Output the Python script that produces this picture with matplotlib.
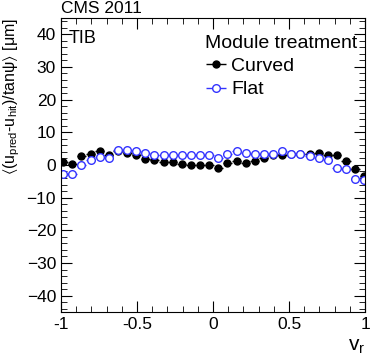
import matplotlib.pyplot as plt
from matplotlib.ticker import MultipleLocator

plt.rcParams['font.family'] = ['Liberation Sans', 'DejaVu Sans']
plt.rcParams['mathtext.fontset'] = 'custom'
plt.rcParams['mathtext.rm'] = 'Liberation Sans'
plt.rcParams['mathtext.it'] = 'Liberation Sans'
plt.rcParams['mathtext.default'] = 'regular'

# bin centres in v_r
v_r = [-0.985, -0.925, -0.865, -0.805, -0.745, -0.685, -0.625, -0.565, -0.505,
       -0.445, -0.385, -0.325, -0.265, -0.205, -0.145, -0.085, -0.025, 0.035,
       0.095, 0.155, 0.215, 0.275, 0.335, 0.395, 0.455, 0.515, 0.575, 0.635,
       0.695, 0.755, 0.815, 0.875, 0.935, 0.995]
half_width = 0.03

curved = [0.9, 0.4, 2.7, 3.4, 4.2, 3.0, 4.2, 3.7, 3.0, 1.9, 1.4, 1.0, 0.9, 0.2,
          -0.1, 0.0, -0.1, -0.8, 0.5, 1.2, 0.7, 1.2, 2.2, 3.0, 3.0, 3.5, 3.3,
          3.5, 3.7, 3.0, 2.9, 1.2, -1.3, -3.3]
flat = [-2.8, -2.8, -0.1, 1.4, 2.5, 2.0, 4.5, 4.7, 4.2, 3.7, 3.2, 3.2, 3.2, 3.0,
        3.0, 3.2, 3.2, 2.2, 3.4, 4.2, 3.7, 3.4, 3.5, 3.5, 4.2, 3.5, 3.4, 2.7,
        2.2, 1.5, -0.8, -1.3, -4.3, -4.5]

fig = plt.figure(figsize=(3.74, 3.59), dpi=100)
ax = fig.add_axes([0.163, 0.131, 0.813, 0.819])

ax.errorbar(v_r, curved, xerr=half_width, fmt='o', color='black', ms=5,
            elinewidth=1, capsize=0, label='Curved')
ax.errorbar(v_r, flat, xerr=half_width, fmt='o', color='#3333ff', mfc='white',
            mec='#3333ff', ms=5.5, mew=1, elinewidth=1, capsize=0, label='Flat')

ax.set_xlim(-1, 1)
ax.set_ylim(-45, 45)
ax.xaxis.set_minor_locator(MultipleLocator(0.1))
ax.yaxis.set_major_locator(MultipleLocator(10))
ax.yaxis.set_minor_locator(MultipleLocator(2))
ax.set_xticks([-1, -0.5, 0, 0.5, 1])
ax.set_xticklabels(['-1', '-0.5', '0', '0.5', '1'])
ax.tick_params(which='both', direction='in', top=True, right=True, labelsize=12.5)
ax.tick_params(which='major', length=8)
ax.tick_params(which='minor', length=4)

ax.set_xlabel(r'$v_r$', fontsize=15, loc='right', labelpad=4)
ax.set_ylabel(r'$\langle$(u$_{pred}$-u$_{hit}$)/tan$\psi\rangle$ [$\mu$m]',
              fontsize=11.5, loc='top', labelpad=3)

ax.text(0.025, 0.93, 'TIB', transform=ax.transAxes, fontsize=13, va='center')
ax.text(0.0, 1.005, 'CMS 2011', transform=ax.transAxes, fontsize=12.5, va='bottom')

leg = ax.legend(loc='upper right', bbox_to_anchor=(1.02, 0.99), title='Module treatment',
                frameon=False, fontsize=14, title_fontsize=14, handlelength=1.1,
                handletextpad=0.25, labelspacing=0.3, borderaxespad=0.3)
leg._legend_box.align = 'left'

fig.savefig('out.png', dpi=100)
